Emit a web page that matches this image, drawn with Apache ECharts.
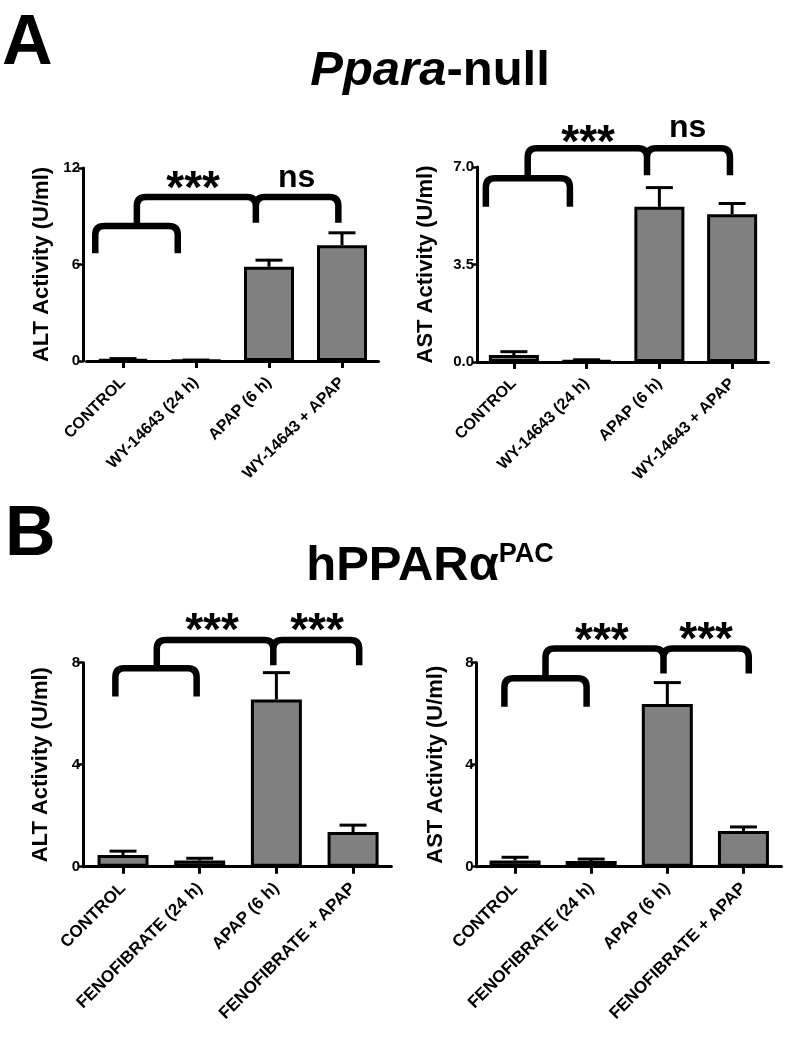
<!DOCTYPE html>
<html><head><meta charset="utf-8">
<script src="https://cdn.jsdelivr.net/npm/echarts@6/dist/echarts.min.js"></script>
<style>html,body{margin:0;padding:0;background:#fff}#c{width:799px;height:1049px}</style>
</head><body><div id="c"></div>
<script>
// ---------- data ----------
const categoriesNull = ['CONTROL', 'WY-14643 (24 h)', 'APAP (6 h)', 'WY-14643 + APAP'];
const categoriesHum = ['CONTROL', 'FENOFIBRATE (24 h)', 'APAP (6 h)', 'FENOFIBRATE + APAP'];

const altNullMean = [0.10, 0.04, 5.86, 7.20];
const altNullSem  = [0.05, 0.02, 0.41, 0.77];
const astNullMean = [0.25, 0.05, 5.57, 5.30];
const astNullSem  = [0.12, 0.03, 0.69, 0.39];
const altHumMean  = [0.46, 0.24, 6.56, 1.36];
const altHumSem   = [0.15, 0.09, 1.05, 0.27];
const astHumMean  = [0.24, 0.22, 6.38, 1.40];
const astHumSem   = [0.13, 0.08, 0.84, 0.16];

const yAxisNull = { alt: { max: 12, interval: 6, digits: 0 }, ast: { max: 7, interval: 3.5, digits: 1 } };
const yAxisHum  = { alt: { max: 8, interval: 4, digits: 0 },  ast: { max: 8, interval: 4, digits: 0 } };

// significance annotations (x in category units, y in axis values)
const sigAltNull = { lower: [-0.38, 0.75, 8.4, 6.7], upper: [0.19, 1.82, 2.95, 10.2, 8.6], labels: [['***', 0.96, 11.3], ['ns', 2.38, 11.25]] };
const sigAstNull = { lower: [-0.385, 0.77, 6.6, 5.57], upper: [0.19, 1.83, 2.97, 7.67, 6.7], labels: [['***', 1.02, 8.2], ['ns', 2.39, 8.33]] };
const sigAltHum  = { lower: [-0.10, 0.96, 7.78, 6.67], upper: [0.44, 1.96, 3.08, 8.89, 7.9], labels: [['***', 1.16, 9.62], ['***', 2.53, 9.62]] };
const sigAstHum  = { lower: [-0.14, 0.94, 7.39, 6.27], upper: [0.40, 1.95, 3.07, 8.56, 7.58], labels: [['***', 1.14, 9.22], ['***', 2.51, 9.28]] };

// ---------- layout / style ----------
const FONT = "'Liberation Sans', Arial, Helvetica, sans-serif";
const panels = [
  { cats: categoriesNull, mean: altNullMean, sem: altNullSem, ax: yAxisNull.alt, sig: sigAltNull, name: 'ALT Activity (U/ml)',
    grid: { left: 86.5, top: 168, width: 292, height: 193 }, yOffset: 3.5, nameGap: 30, tickFont: 15, catFont: 16, catMargin: 19, barW: 50 },
  { cats: categoriesNull, mean: astNullMean, sem: astNullSem, ax: yAxisNull.ast, sig: sigAstNull, name: 'AST Activity (U/ml)',
    grid: { left: 477.5, top: 167, width: 291, height: 195 }, yOffset: 0.5, nameGap: 40, tickFont: 15, catFont: 16, catMargin: 19, barW: 50 },
  { cats: categoriesHum, mean: altHumMean, sem: altHumSem, ax: yAxisHum.alt, sig: sigAltHum, name: 'ALT Activity (U/ml)',
    grid: { left: 84.7, top: 662.7, width: 306.7, height: 204 }, yOffset: 1.7, nameGap: 31, tickFont: 15, catFont: 17, catMargin: 19, barW: 51 },
  { cats: categoriesHum, mean: astHumMean, sem: astHumSem, ax: yAxisHum.ast, sig: sigAstHum, name: 'AST Activity (U/ml)',
    grid: { left: 477, top: 662.7, width: 304.5, height: 204 }, yOffset: 0.3, nameGap: 30, tickFont: 15, catFont: 17, catMargin: 19, barW: 51 }
];

function bracketRenderer(sig) {
  return function (params, api) {
    const c0 = api.coord([0, 0]), c1 = api.coord([1, 0]);
    const bw = c1[0] - c0[0];
    const X = v => c0[0] + v * bw;
    const Y = v => api.coord([0, v])[1];
    const r = 9;
    const seg = (xa, xb, yt, ya, yb) =>
      `M${xa},${ya} L${xa},${yt + r} Q${xa},${yt} ${xa + r},${yt} L${xb - r},${yt} Q${xb},${yt} ${xb},${yt + r} L${xb},${yb}`;
    const [lx0, lx1, ltop, lend] = sig.lower;
    const [xm, xc, xr, utop, uend] = sig.upper;
    const d = seg(X(lx0), X(lx1), Y(ltop), Y(lend), Y(lend)) + ' ' +
              seg(X(xm), X(xc), Y(utop), Y(ltop), Y(uend)) + ' ' +
              seg(X(xc), X(xr), Y(utop), Y(uend), Y(uend));
    const children = [{
      type: 'path', shape: { pathData: d },
      style: { fill: null, stroke: '#000', lineWidth: 6.5, lineJoin: 'round' }
    }];
    sig.labels.forEach(([t, lx, ly]) => {
      const stars = t === '***';
      children.push({
        type: 'text', x: X(lx), y: Y(ly) + (stars ? 11 : -2),
        style: { text: t, fill: '#000', fontFamily: FONT, fontWeight: 'bold',
                 fontSize: stars ? 46 : 32, align: 'center', verticalAlign: 'middle' }
      });
    });
    return { type: 'group', children };
  };
}

function errRender(params, api) {
  const i = api.value(0), m = api.value(1), e = api.value(2);
  const base = api.coord([i, m]);
  const top = api.coord([i, m + e]);
  const hw = 13.5;
  return {
    type: 'group', children: [
      { type: 'line', shape: { x1: base[0], y1: base[1], x2: top[0], y2: top[1] }, style: { stroke: '#000', lineWidth: 3 } },
      { type: 'line', shape: { x1: top[0] - hw, y1: top[1], x2: top[0] + hw, y2: top[1] }, style: { stroke: '#000', lineWidth: 3 } }
    ]
  };
}

const grid = [], xAxis = [], yAxis = [], series = [];
panels.forEach((p, k) => {
  grid.push(Object.assign({ containLabel: false, outerBoundsMode: 'none' }, p.grid));
  xAxis.push({
    type: 'category', gridIndex: k, data: p.cats,
    axisLine: { show: true, lineStyle: { color: '#000', width: 3 } },
    axisTick: { show: true, alignWithLabel: true, length: 7, lineStyle: { color: '#000', width: 3 } },
    axisLabel: { rotate: 45, margin: p.catMargin, color: '#000', fontFamily: FONT, fontWeight: 'bold', fontSize: p.catFont, interval: 0 }
  });
  yAxis.push({
    type: 'value', gridIndex: k, min: 0, max: p.ax.max, interval: p.ax.interval, offset: p.yOffset,
    name: p.name, nameLocation: 'middle', nameGap: p.nameGap, nameRotate: 90,
    nameTextStyle: { color: '#000', fontFamily: FONT, fontWeight: 'bold', fontSize: 22 },
    axisLine: { show: true, lineStyle: { color: '#000', width: 3 } },
    axisTick: { show: true, length: 5, lineStyle: { color: '#000', width: 2.5 } },
    splitLine: { show: false },
    axisLabel: { margin: 3, color: '#000', fontFamily: FONT, fontWeight: 'bold', fontSize: p.tickFont,
                 formatter: v => v.toFixed(p.ax.digits) }
  });
  series.push({
    type: 'bar', xAxisIndex: k, yAxisIndex: k, data: p.mean, barWidth: p.barW, silent: true,
    itemStyle: { color: '#808080', borderColor: '#000', borderWidth: 3 }
  });
  series.push({
    type: 'custom', xAxisIndex: k, yAxisIndex: k, renderItem: errRender, silent: true, z: 3,
    data: p.mean.map((m, i) => [i, m, p.sem[i]])
  });
  series.push({
    type: 'custom', xAxisIndex: k, yAxisIndex: k, renderItem: bracketRenderer(p.sig), silent: true, z: 4, clip: false,
    data: [[0, 0]]
  });
});

const chart = echarts.init(document.getElementById('c'), null, { renderer: 'canvas' });
chart.setOption({
  backgroundColor: '#fff',
  animation: false,
  grid, xAxis, yAxis, series,
  graphic: [
    { type: 'text', left: 2, top: 10, style: { text: 'A', fill: '#000', fontFamily: FONT, fontWeight: 'bold', fontSize: 70 } },
    { type: 'text', left: 5, top: 501, style: { text: 'B', fill: '#000', fontFamily: FONT, fontWeight: 'bold', fontSize: 70 } },
    { type: 'text', x: 430, y: 71, style: { text: '{i|Ppara}{n|-null}', align: 'center', verticalAlign: 'middle',
        rich: { i: { fontFamily: FONT, fontWeight: 'bold', fontStyle: 'italic', fontSize: 49, fill: '#000' },
                n: { fontFamily: FONT, fontWeight: 'bold', fontSize: 49, fill: '#000' } } } },
    { type: 'text', x: 430, y: 566, style: { text: '{b|hPPARα}{s|PAC}', align: 'center', verticalAlign: 'middle',
        rich: { b: { fontFamily: FONT, fontWeight: 'bold', fontSize: 49, fill: '#000' },
                s: { fontFamily: FONT, fontWeight: 'bold', fontSize: 27, fill: '#000', verticalAlign: 'top', lineHeight: 50 } } } }
  ]
});
</script>
</body></html>
